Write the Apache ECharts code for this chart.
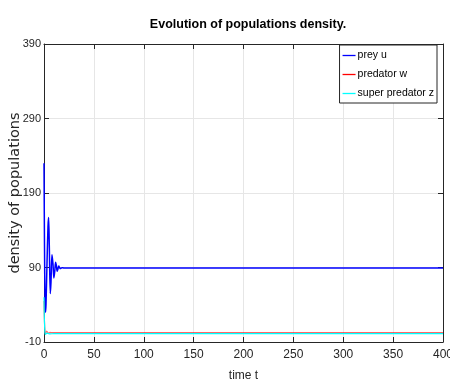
<!DOCTYPE html>
<html><head><meta charset="utf-8">
<script src="https://cdn.jsdelivr.net/npm/echarts@6/dist/echarts.min.js"></script>
<style>html,body{margin:0;padding:0;background:#fff}#c{width:450px;height:385px}</style>
</head><body><div id="c"></div>
<script>
// time points and series values
const timeU = [0, 0.5, 1, 1.5, 2, 3, 4, 4.6, 5.3, 6.3, 7, 8, 9, 9.9, 10.8, 11.6, 12.4, 13.2, 14, 14.8, 15.6, 16.5, 18, 20, 30, 100, 200, 300, 400];
const preyU = [230, 120, 45, 30, 40, 95, 145, 157, 120, 55, 70, 107, 95, 76, 85, 97, 93, 85, 88, 92, 90, 88.5, 89.8, 89.3, 89.3, 89.3, 89.3, 89.3, 89.3];
const timeW = [0, 0.3, 0.7, 1, 1.5, 2, 2.6, 3.2, 4, 5, 6, 8, 10, 20, 100, 200, 300, 400];
const predatorW = [45, 25, 10, 4, 1, 1.5, 4.5, 4, 2.5, 2, 2.8, 2.5, 2.6, 2.6, 2.6, 2.6, 2.6, 2.6];
const timeZ = [0, 0.3, 0.7, 1, 1.5, 2, 3, 4, 6, 10, 20, 100, 200, 300, 400];
const superZ = [50, 25, 8, 2, 0.2, 0.4, 1.8, 1.5, 1, 1.2, 1.2, 1.2, 1.2, 1.2, 1.2];
const xTicks = [0, 50, 100, 150, 200, 250, 300, 350, 400];
const yTicks = [-10, 90, 190, 290, 390];
const seriesNames = ['prey u', 'predator w', 'super predator z'];
const colors = ['#0000ff', '#ff0000', '#00ffff'];

const sans = '"Liberation Sans", Arial, sans-serif';
const pairs = (t, v) => t.map((x, i) => [x, v[i]]);
const chart = echarts.init(document.getElementById('c'));
const axisCol = '#262626';
const xBase = {
  type: 'value', min: xTicks[0], max: xTicks[xTicks.length - 1], interval: 50,
  axisLine: { show: true, onZero: false, lineStyle: { color: axisCol, width: 1 } },
  axisTick: { show: true, inside: true, length: 5, lineStyle: { color: axisCol } },
  splitLine: { show: false }
};
const yBase = {
  type: 'value', min: yTicks[0], max: yTicks[yTicks.length - 1], interval: 100,
  axisLine: { show: true, onZero: false, lineStyle: { color: axisCol, width: 1 } },
  axisTick: { show: true, inside: true, length: 5, lineStyle: { color: axisCol } },
  splitLine: { show: false }
};
chart.setOption({
  animation: false,
  backgroundColor: '#fff',
  title: {
    text: 'Evolution of populations density.', left: 243, top: 13, textAlign: 'center',
    textStyle: { fontFamily: sans, fontWeight: 'bold', fontSize: 12.5, color: '#000' }
  },
  grid: { left: 44, right: 7, top: 44, bottom: 43, outerBoundsMode: 'none', containLabel: false },
  legend: {
    data: seriesNames.map((n, i) => ({ name: n, icon: 'path://M0,0H20V2H0Z', itemStyle: { color: colors[i] } })),
    orient: 'vertical', right: 13, top: 45, itemWidth: 13, itemHeight: 2, itemGap: 8,
    borderColor: '#262626', borderWidth: 1, backgroundColor: '#fff', padding: [5, 3, 4, 3], borderRadius: 0,
    textStyle: { fontFamily: sans, fontSize: 10.5, color: '#000', padding: [0, 0, 0, -3] }
  },
  xAxis: [
    Object.assign({}, xBase, {
      name: 'time t', nameLocation: 'middle', nameGap: 28,
      nameTextStyle: { fontFamily: sans, fontSize: 12, color: axisCol },
      axisLabel: { fontFamily: sans, fontSize: 12, color: axisCol, margin: 7 },
      splitLine: { show: true, lineStyle: { color: '#e6e6e6', width: 1 } }
    }),
    Object.assign({}, xBase, { position: 'top', axisLabel: { show: false } })
  ],
  yAxis: [
    Object.assign({}, yBase, {
      name: 'density of populations', nameLocation: 'middle', nameGap: 21, nameRotate: 90,
      nameMoveOverlap: false,
      nameTextStyle: { fontFamily: '"DejaVu Sans", sans-serif', fontSize: 14.5, color: axisCol },
      axisLabel: { fontFamily: sans, fontSize: 11, color: axisCol, margin: 3 },
      splitLine: { show: true, lineStyle: { color: '#e6e6e6', width: 1 } }
    }),
    Object.assign({}, yBase, { position: 'right', axisLabel: { show: false } })
  ],
  series: [
    { name: seriesNames[0], type: 'line', data: pairs(timeU, preyU), showSymbol: false, smooth: 0.3,
      lineStyle: { color: colors[0], width: 1.5 }, itemStyle: { color: colors[0] } },
    { name: seriesNames[1], type: 'line', data: pairs(timeW, predatorW), showSymbol: false, smooth: 0.3,
      lineStyle: { color: colors[1], width: 1.2, opacity: 0.6 }, itemStyle: { color: colors[1] } },
    { name: seriesNames[2], type: 'line', data: pairs(timeZ, superZ), showSymbol: false, smooth: 0.3,
      lineStyle: { color: colors[2], width: 1.2 }, itemStyle: { color: colors[2] } }
  ]
});
</script></body></html>
